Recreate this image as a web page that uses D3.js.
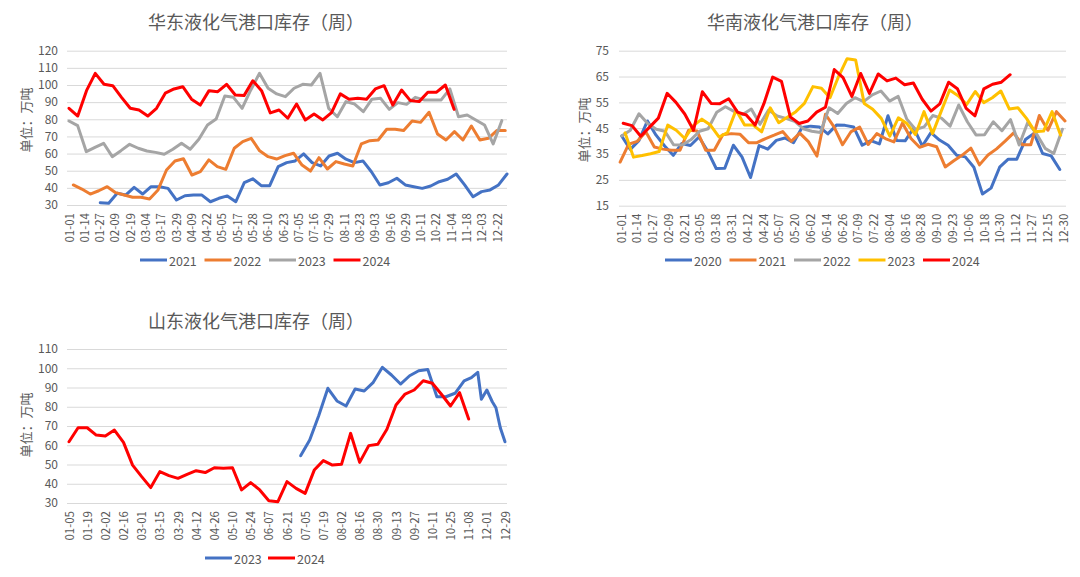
<!DOCTYPE html>
<html><head><meta charset="utf-8">
<script src="https://cdn.jsdelivr.net/npm/d3@7/dist/d3.min.js"></script>
<style>
body{margin:0;background:#fff;}
svg{display:block;}
text{font-family:"Noto Sans CJK SC","Noto Sans",sans-serif;fill:#595959;}
</style>
</head><body>
<svg id="c" width="1080" height="577"></svg>
<script>
// ---------- 华东 ----------
const eastLabels = ["01-01","01-14","01-27","02-09","02-19","03-04","03-17","03-29","04-09","04-22","05-05","05-17","05-28","06-10","06-23","07-05","07-16","07-29","08-11","08-23","09-03","09-16","09-29","10-11","10-22","11-04","11-18","12-03","12-22"];
const eastTicks = [30,40,50,60,70,80,90,100,110,120];
const eastYears = ["2021","2022","2023","2024"];
const east2021 = [31.3,31.0,36.8,35.8,40.3,36.4,40.7,40.7,39.7,32.9,35.4,35.8,35.8,31.9,33.9,35.3,31.9,43.0,45.3,41.3,41.3,52.4,54.7,55.7,59.8,54.7,52.8,58.6,60.2,56.7,54.7,55.7,49.4,41.7,43.0,45.6,41.7,40.7,39.7,41.1,43.6,45.0,48.1,41.7,34.8,37.8,38.8,41.7,48.1];
const east2022 = [41.7,39.3,36.4,38.3,40.7,37.2,35.8,34.5,34.5,33.5,38.8,50.4,55.7,57.0,47.5,49.5,56.3,52.4,50.8,63.1,67.0,68.9,61.6,58.2,56.8,58.8,60.2,53.3,49.8,57.6,51.0,55.3,53.9,52.7,65.6,67.5,67.9,74.2,74.2,73.4,79.0,78.2,84.1,71.4,67.9,72.8,67.9,76.1,67.9,68.9,73.4,73.4];
const east2023 = [79.0,76.3,61.1,63.6,66.0,58.2,61.7,65.4,63.1,61.5,60.7,59.6,62.5,66.0,62.5,68.3,76.7,80.2,93.6,92.8,86.4,97.1,106.8,98.1,94.8,93.2,98.1,100.4,100.0,106.8,86.4,81.5,90.3,88.9,84.4,91.7,92.2,85.8,89.7,88.7,92.8,91.3,91.3,91.3,97.7,81.5,82.5,79.6,76.7,65.6,79.2];
const east2024 = [86.4,81.9,96.7,106.8,100.4,99.6,92.8,86.4,85.4,81.9,86.4,95.2,97.7,99.0,91.7,88.3,96.7,96.1,100.4,94.2,93.8,102.5,96.7,83.7,85.4,80.6,88.9,79.6,83.1,79.6,83.9,94.8,91.7,92.2,91.7,97.7,99.6,88.3,97.1,90.9,90.3,95.8,95.8,100.0,85.8];
// week span (first week, last week) of each year's readings
const eastSpans = [[3.6,50.5],[0.5,50.3],[0,49.9],[0,44.4]];

// ---------- 华南 ----------
const southLabels = ["01-01","01-14","01-27","02-09","02-21","03-05","03-18","03-31","04-12","04-24","05-07","05-20","06-02","06-14","06-26","07-09","07-22","08-04","08-16","08-28","09-10","09-23","10-06","10-18","10-30","11-12","11-27","12-15","12-30"];
const southTicks = [15,25,35,45,55,65,75];
const southYears = ["2020","2021","2022","2023","2024"];
const south2020 = [42.0,36.8,40.2,47.8,42.3,38.1,34.5,39.1,38.3,41.6,36.2,29.4,29.5,38.4,33.9,25.9,38.3,36.9,40.3,41.2,39.4,45.3,45.8,45.5,42.8,46.2,46.1,45.5,38.4,40.2,38.9,49.8,40.2,40.1,45.1,38.1,43.3,40.4,38.4,34.5,33.9,29.9,19.5,21.8,29.9,33.0,33.0,40.6,43.0,35.2,34.3,29.0];
const south2021 = [31.9,38.8,39.9,43.6,37.7,36.9,36.5,36.5,44.2,43.9,36.5,36.5,42.5,42.9,42.7,39.4,39.4,41.0,42.3,43.7,39.9,43.1,39.8,34.2,50.4,45.5,38.6,43.7,45.4,38.7,42.9,41.0,39.7,47.0,41.0,37.6,38.8,37.8,30.0,32.4,34.6,37.3,30.8,34.6,37.0,40.0,43.2,38.6,38.6,49.9,44.2,51.4,47.8];
const south2022 = [42.0,44.2,50.6,46.8,44.6,43.8,38.6,38.5,40.5,43.8,44.8,51.2,53.3,51.5,50.3,52.4,46.5,52.0,49.7,48.8,47.7,44.8,43.8,43.3,52.9,50.7,54.6,56.8,55.3,57.9,59.4,55.5,57.3,48.5,44.5,45.5,49.9,48.9,45.8,54.0,47.5,42.4,42.5,47.5,44.0,48.3,38.5,47.3,42.8,37.2,35.2,44.6];
const south2023 = [43.2,33.8,34.4,35.1,36.0,46.2,44.2,41.0,46.0,48.5,46.2,41.6,43.3,52.0,46.2,46.2,43.6,52.9,47.1,49.2,51.4,54.6,61.1,60.5,56.8,65.0,71.9,71.4,54.6,52.3,48.8,41.9,49.0,46.8,42.5,51.4,42.9,51.4,59.8,57.6,54.2,59.2,54.9,56.8,59.4,52.4,52.9,48.8,43.6,43.9,51.4,42.3];
const south2024 = [46.9,46.0,41.9,45.4,48.9,58.5,55.0,50.5,44.2,59.1,54.6,54.5,56.4,51.2,50.1,46.2,54.5,64.8,63.1,49.4,46.8,47.8,51.2,53.1,67.7,64.6,57.3,66.2,58.5,66.0,63.3,64.4,61.8,62.5,56.2,51.6,54.4,62.8,60.3,52.7,49.8,60.2,62.0,62.8,65.7];
const southSpans = [[0.08,50.4],[-0.1,51.0],[0.08,50.7],[0.46,50.5],[0.25,44.7]];

// ---------- 山东 ----------
const shandongLabels = ["01-05","01-19","02-02","02-16","03-01","03-15","03-29","04-12","04-26","05-10","05-24","06-07","06-21","07-05","07-19","08-02","08-16","08-30","09-13","09-27","10-11","10-25","11-08","12-01","12-29"];
const shandongTicks = [30,40,50,60,70,80,90,100,110];
const shandongYears = ["2023","2024"];
const shandong2023 = [54.6,62.7,75.5,89.6,83.0,80.4,89.2,88.2,92.7,100.5,96.5,91.8,96.1,98.7,99.4,85.2,85.2,87.0,93.4,95.1,97.9,83.9,88.7,82.6,79.5,68.8,61.8];
const shandong2023Weeks = [25.5,26.5,27.5,28.5,29.5,30.5,31.5,32.5,33.5,34.5,35.5,36.5,37.5,38.5,39.5,40.5,41.5,42.5,43.5,44.3,45.0,45.4,46.0,46.6,47.0,47.5,48.0];
const shandong2024 = [61.8,69.1,69.1,65.3,64.8,67.9,61.5,49.7,43.7,38.0,46.3,44.2,42.8,44.9,46.8,45.8,48.3,48.0,48.3,36.8,40.6,36.8,31.2,30.7,41.1,37.6,35.0,47.1,52.0,49.7,50.1,66.2,51.1,59.8,60.5,68.3,80.9,86.6,88.7,93.5,92.2,86.5,80.4,87.3,73.6];

// series colours follow the Office palette order; the latest year is red
const PALETTE = ["#4472C4","#ED7D31","#A5A5A5","#FFC000"];
const LATEST = "#FF0000";
function colorsFor(years){ return years.map((y,i)=> i===years.length-1 ? LATEST : PALETTE[i]); }

const svg = d3.select("#c");

function panel(o){
  const g = svg.append("g");
  const x = d3.scaleLinear().domain(o.weekDomain).range(o.plotX);
  const y = d3.scaleLinear().domain(d3.extent(o.ticks)).range(o.plotY);
  const xl = d3.scalePoint().domain(o.labels).range(o.labelX);
  const color = d3.scaleOrdinal().domain(o.series.map(s=>s.name)).range(colorsFor(o.series.map(s=>s.name)));

  g.append("text").attr("x", o.titlePos[0]).attr("y", o.titlePos[1])
    .attr("text-anchor","middle").attr("dominant-baseline","central")
    .style("font-size","18px").text(o.title);
  g.append("text").attr("transform",`translate(${o.unitPos[0]},${o.unitPos[1]}) rotate(-90)`)
    .attr("text-anchor","middle").attr("dominant-baseline","central")
    .style("font-size","13px").text("单位：万吨");

  const ya = g.append("g").attr("transform",`translate(${o.gridX[0]},0)`)
    .call(d3.axisLeft(y).tickValues(o.ticks).tickSize(-(o.gridX[1]-o.gridX[0])).tickPadding(o.yPad));
  ya.select(".domain").remove();
  ya.selectAll(".tick line").attr("stroke","#D9D9D9").attr("stroke-width",1);
  ya.selectAll(".tick text").style("font-size","12px").attr("fill","#595959")
    .style("font-family","'Noto Sans CJK SC','Noto Sans',sans-serif");

  const xa = g.append("g").attr("transform",`translate(0,${o.plotY[0]})`)
    .call(d3.axisBottom(xl).tickSize(0));
  xa.select(".domain").remove();
  xa.selectAll(".tick text").attr("transform","rotate(-90)")
    .attr("text-anchor","end").attr("x",-o.xPad).attr("y",0).attr("dy","0.35em")
    .style("font-size","11.5px").attr("fill","#595959")
    .style("font-family","'Noto Sans CJK SC','Noto Sans',sans-serif");

  o.series.forEach(s=>{
    const n = s.values.length;
    const pos = s.weeks ? s.weeks : s.values.map((v,i)=> s.span[0] + i*(s.span[1]-s.span[0])/(n-1));
    const line = d3.line().x((d,i)=>x(pos[i])).y(d=>y(d));
    g.append("path").datum(s.values).attr("d",line)
      .attr("fill","none").attr("stroke",color(s.name)).attr("stroke-width",3)
      .attr("stroke-linejoin","round").attr("stroke-linecap","round");
  });

  const lg = g.append("g").attr("transform",`translate(${o.legendPos[0]},${o.legendPos[1]})`);
  const items = lg.selectAll("g").data(o.series).join("g")
    .attr("transform",(d,i)=>`translate(${i*o.legendStep},0)`);
  items.append("line").attr("x1",0).attr("x2",27).attr("y1",0).attr("y2",0)
    .attr("stroke",d=>color(d.name)).attr("stroke-width",3);
  items.append("text").attr("x",29).attr("y",0).attr("dominant-baseline","central")
    .style("font-size","12.5px").text(d=>d.name);
}

panel({
  title:"华东液化气港口库存（周）", titlePos:[256,21], unitPos:[25,120],
  labels:eastLabels, ticks:eastTicks,
  weekDomain:[0,50.5], plotX:[69,507], labelX:[69,497], plotY:[205,50.7], gridX:[67,507],
  yPad:9, xPad:8,
  series:[east2021,east2022,east2023,east2024].map((v,i)=>({name:eastYears[i], values:v, span:eastSpans[i]})),
  legendPos:[140,260], legendStep:64.5
});

panel({
  title:"华南液化气港口库存（周）", titlePos:[815,21], unitPos:[583,130],
  labels:southLabels, ticks:southTicks,
  weekDomain:[0,51], plotX:[621,1065], labelX:[621,1063], plotY:[205.7,50.7], gridX:[619,1066],
  yPad:10, xPad:8,
  series:[south2020,south2021,south2022,south2023,south2024].map((v,i)=>({name:southYears[i], values:v, span:southSpans[i]})),
  legendPos:[665,260], legendStep:64.5
});

panel({
  title:"山东液化气港口库存（周）", titlePos:[256,320], unitPos:[25,425],
  labels:shandongLabels, ticks:shandongTicks,
  weekDomain:[0,48], plotX:[69,505], labelX:[69,505], plotY:[503,349], gridX:[67,507],
  yPad:9, xPad:8,
  series:[
    {name:shandongYears[0], values:shandong2023, weeks:shandong2023Weeks},
    {name:shandongYears[1], values:shandong2024, span:[0,44]}
  ],
  legendPos:[205,558], legendStep:63
});
</script>
</body></html>
